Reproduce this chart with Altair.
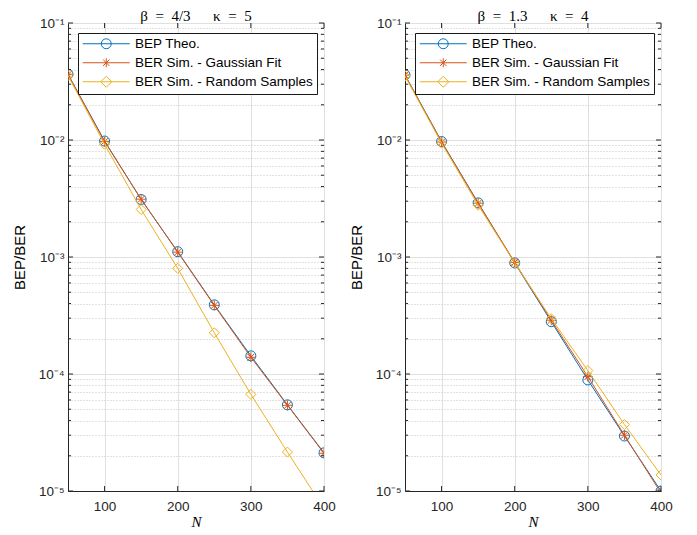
import altair as alt
import pandas as pd

# ---------------- data ----------------
N = [50, 100, 150, 200, 250, 300, 350, 400]
series_names = ["BEP Theo.", "BER Sim. - Gaussian Fit", "BER Sim. - Random Samples"]
colors = ["#0072BD", "#D95319", "#EDB120"]

# left panel (beta = 4/3, kappa = 5)
theo_a = [0.0365, 0.0098, 0.0031, 0.00111, 3.9e-4, 1.43e-4, 5.45e-5, 2.12e-5]
gauss_a = [0.0362, 0.0097, 0.00312, 0.00110, 3.86e-4, 1.39e-4, 5.40e-5, 2.10e-5]
rand_a = [0.0355, 0.0092, 0.00255, 0.00080, 2.25e-4, 6.7e-5, 2.15e-5, 7.1e-6]

# right panel (beta = 1.3, kappa = 4)
theo_b = [0.0360, 0.0097, 0.00290, 0.00089, 2.80e-4, 8.9e-5, 2.95e-5, 1.00e-5]
gauss_b = [0.0358, 0.0096, 0.00288, 0.00090, 2.88e-4, 9.5e-5, 3.00e-5, 9.6e-6]
rand_b = [0.0352, 0.0094, 0.00277, 0.00089, 2.97e-4, 1.07e-4, 3.7e-5, 1.37e-5]

NB = "\u00a0"
panel_titles = [f"\u03b2{NB*2}={NB*2}4/3{NB*6}\u03ba{NB*2}={NB*2}5",
                f"\u03b2{NB*2}={NB*2}1.3{NB*6}\u03ba{NB*2}={NB*2}4"]

x_ticks = [100, 200, 300, 400]
y_major = [1e-1, 1e-2, 1e-3, 1e-4, 1e-5]
y_major_labels = ["10\u207b\u00b9", "10\u207b\u00b2", "10\u207b\u00b3", "10\u207b\u2074", "10\u207b\u2075"]
y_minor = [m * 10.0 ** e for e in range(-5, -1) for m in range(2, 10)]

# ---------------- styling ----------------
W, H = 256, 468
AX = "#262626"
ASTER = "M-1,0L1,0M0,-1L0,1M-0.7,-0.7L0.7,0.7M-0.7,0.7L0.7,-0.7"
marker_shapes = ["circle", ASTER, "diamond"]
# legend symbols: a line segment with the marker in its middle (unit = 6 px)
LEG_CIRCLE = "M-3.92,0L3.92,0M-0.83,0A0.83,0.83 0 1,1 0.83,0A0.83,0.83 0 1,1 -0.83,0"
LEG_ASTER = "M-3.92,0L3.92,0M0,-0.75L0,0.75M-0.53,-0.53L0.53,0.53M-0.53,0.53L0.53,-0.53"
LEG_DIAMOND = "M-3.92,0L3.92,0M0,-0.92L0.92,0L0,0.92L-0.92,0Z"
legend_shapes = [LEG_CIRCLE, LEG_ASTER, LEG_DIAMOND]

major_list = "[" + ",".join(repr(v) for v in y_major) + "]"
label_expr = "''"
for v, lab in zip(y_major[::-1], y_major_labels[::-1]):
    label_expr = f"datum.value == {repr(v)} ? '{lab}' : ({label_expr})"
is_major = f"indexof({major_list}, datum.value) >= 0"


def legend_props():
    return alt.Legend(orient="none", legendX=10, legendY=10, title=None,
                      labelFont="Liberation Sans", labelFontSize=13.5,
                      labelColor="black", labelOffset=22,
                      symbolSize=144, symbolOffset=17.5, symbolStrokeWidth=1,
                      symbolFillColor="transparent",
                      strokeColor="#1a1a1a", fillColor="white", padding=4,
                      rowPadding=4, labelLimit=400)


def panel(theo, gauss, rand, title):
    df = pd.DataFrame({
        "N": N * 3,
        "val": theo + gauss + rand,
        "series": [s for s in series_names for _ in N],
    })
    xsc = alt.Scale(domain=[50, 400], nice=False, zero=False)
    ysc = alt.Scale(type="log", domain=[1e-5, 1e-1], nice=False)
    xax = alt.Axis(values=x_ticks, title="N", titleFont="Liberation Serif",
                   titleFontStyle="italic", titleFontWeight="normal", titleFontSize=15,
                   titleColor="black", titlePadding=2,
                   labelFont="Liberation Sans", labelFontSize=13.5, labelColor=AX,
                   labelPadding=8, ticks=False, domainColor=AX, labelFlush=False,
                   grid=True, gridColor="#e0e0e0", gridWidth=1)
    yax = alt.Axis(values=sorted(y_major + y_minor), labelExpr=label_expr,
                   title="BEP/BER", titleFont="Liberation Sans", titleFontSize=15,
                   titleFontWeight="normal", titleColor="black", titlePadding=11,
                   labelFont="Liberation Sans", labelFontSize=13.5, labelColor=AX,
                   labelPadding=4, ticks=False, domainColor=AX, labelOverlap=False,
                   labelFlush=False, grid=True, gridWidth=1,
                   gridDash={"condition": {"test": is_major, "value": []}, "value": [1, 2]},
                   gridColor={"condition": {"test": is_major, "value": "#e0e0e0"}, "value": "#c4c4c4"})
    base = alt.Chart(df)
    data_layers = []
    first = True
    for name, col, shp in zip(series_names, colors, marker_shapes):
        sub = base.transform_filter(alt.datum.series == name)
        if first:
            enc = dict(x=alt.X("N:Q", scale=xsc, axis=xax), y=alt.Y("val:Q", scale=ysc, axis=yax))
            first = False
        else:
            enc = dict(x=alt.X("N:Q", scale=xsc), y=alt.Y("val:Q", scale=ysc))
        data_layers.append(sub.mark_line(strokeWidth=1, clip=True, color=col).encode(**enc))
        data_layers.append(sub.mark_point(filled=False, strokeWidth=1, size=100, clip=True,
                                          opacity=1, color=col, shape=shp).encode(
            x=alt.X("N:Q", scale=xsc), y=alt.Y("val:Q", scale=ysc)))
    legend_layer = base.transform_filter("false").mark_point(
        filled=False, strokeWidth=1, opacity=1).encode(
        x=alt.X("N:Q", scale=xsc),
        y=alt.Y("val:Q", scale=ysc),
        color=alt.Color("series:N", scale=alt.Scale(domain=series_names, range=colors),
                        legend=legend_props()),
        shape=alt.Shape("series:N", scale=alt.Scale(domain=series_names, range=legend_shapes),
                        legend=legend_props()),
    )
    ymaj = alt.Chart(pd.DataFrame({"val": y_major}))
    ymin = alt.Chart(pd.DataFrame({"val": y_minor}))
    xt = alt.Chart(pd.DataFrame({"N": x_ticks}))
    tick_layers = [
        ymaj.mark_rule(color=AX, strokeWidth=1).encode(y=alt.Y("val:Q", scale=ysc), x=alt.value(0), x2=alt.value(5)),
        ymaj.mark_rule(color=AX, strokeWidth=1).encode(y=alt.Y("val:Q", scale=ysc), x=alt.value(W), x2=alt.value(W - 5)),
        ymin.mark_rule(color=AX, strokeWidth=1).encode(y=alt.Y("val:Q", scale=ysc), x=alt.value(0), x2=alt.value(3)),
        ymin.mark_rule(color=AX, strokeWidth=1).encode(y=alt.Y("val:Q", scale=ysc), x=alt.value(W), x2=alt.value(W - 3)),
        xt.mark_rule(color=AX, strokeWidth=1).encode(x=alt.X("N:Q", scale=xsc), y=alt.value(H), y2=alt.value(H - 5)),
        xt.mark_rule(color=AX, strokeWidth=1).encode(x=alt.X("N:Q", scale=xsc), y=alt.value(0), y2=alt.value(5)),
    ]
    return alt.layer(*data_layers, legend_layer, *tick_layers).properties(
        width=W, height=H,
        title=alt.TitleParams(title, font="Liberation Serif", fontSize=15, fontWeight="normal",
                              color="black", offset=-8),
    )


left = panel(theo_a, gauss_a, rand_a, panel_titles[0])
right = panel(theo_b, gauss_b, rand_b, panel_titles[1])

chart = alt.hconcat(left, right, spacing=12).resolve_scale(
    color="independent", shape="independent"
).resolve_legend(color="independent", shape="independent").properties(
    padding={"left": 3, "top": 0, "right": 5, "bottom": 0}
).configure_view(stroke=AX, strokeWidth=1).configure(background="white")

chart.save("out.html", embed_options={"renderer": "svg", "actions": False})
